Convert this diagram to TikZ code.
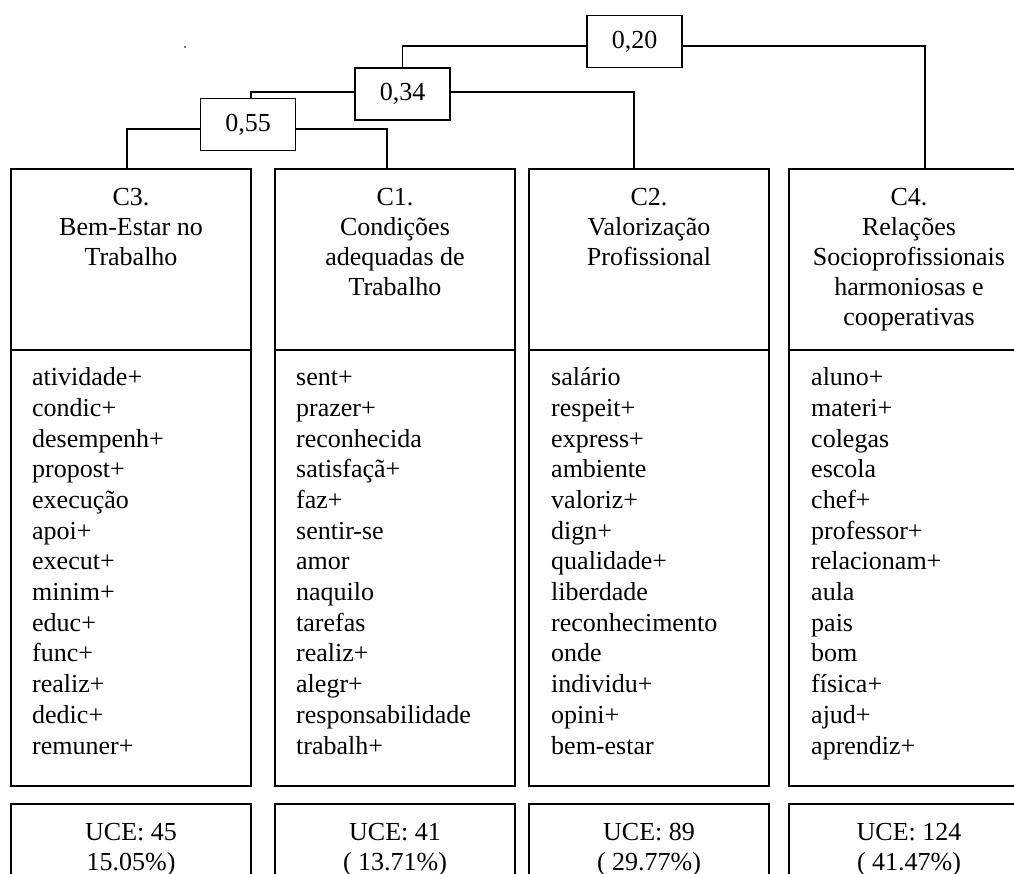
\documentclass[tikz,border=0pt]{standalone}
\usepackage{fontspec}
\setmainfont{Liberation Serif}
\begin{document}
\begin{tikzpicture}[x=1pt,y=-1pt,
  frame/.style={draw, line width=1.6pt, inner sep=0pt, minimum width=240pt},
  val/.style={draw, line width=1.6pt, inner sep=0pt, minimum width=95pt, minimum height=52pt, font=\fontsize{26}{30}\selectfont},
  conn/.style={line width=1.2pt},
  hdrtxt/.style={inner sep=0pt, anchor=north, align=center, font=\fontsize{26}{30}\selectfont},
  listtxt/.style={inner sep=0pt, anchor=north west, align=left, font=\fontsize{26}{30.7}\selectfont}
]
\clip (0,0) rectangle (1014,874);
\fill[white] (0,0) rectangle (1014,874);

% column frames
\foreach \n/\cx in {3/131,1/395,2/649,4/909}{
  \node[frame, minimum height=181pt] (h\n) at (\cx,259.5) {};
  \node[frame, minimum height=436pt] (w\n) at (\cx,568) {};
  \node[frame, minimum height=110pt] (u\n) at (\cx,859) {};
}

% dendrogram values
\node[val] (v020) at (634.5,41.5) {0,20};
\node[val] (v034) at (402.5,94) {0,34};
\node[val] (v055) at (248,124.5) {0,55};

% connectors
\draw[conn] ([yshift=-4.5pt]v020.west) -| (v034.north);
\draw[conn] ([yshift=-4.5pt]v020.east) -| ([xshift=16pt]h4.north);
\draw[conn] ([yshift=2pt]v034.west) -| ([xshift=3pt]v055.north);
\draw[conn] ([yshift=2pt]v034.east) -| ([xshift=-15pt]h2.north);
\draw[conn] ([yshift=-4.5pt]v055.west) -| ([xshift=-4pt]h3.north);
\draw[conn] ([yshift=-4.5pt]v055.east) -| ([xshift=-8pt]h1.north);

\fill (185,47) circle (0.9pt);

% headers
\node[hdrtxt] (t3) at (131,184) {\strut C3.\\Bem-Estar no\\Trabalho};
\node[hdrtxt] (t1) at (395,184) {\strut C1.\\Condições\\adequadas de\\Trabalho};
\node[hdrtxt] (t2) at (649,184) {\strut C2.\\Valorização\\Profissional};
\node[hdrtxt] (t4) at (909,184) {\strut C4.\\Relações\\Socioprofissionais\\harmoniosas e\\cooperativas};

% word lists
\node[listtxt] (l3) at (32,364) {\strut atividade+\\condic+\\desempenh+\\propost+\\execução\\apoi+\\execut+\\minim+\\educ+\\func+\\realiz+\\dedic+\\remuner+};
\node[listtxt] (l1) at (296,364) {\strut sent+\\prazer+\\reconhecida\\satisfaçã+\\faz+\\sentir-se\\amor\\naquilo\\tarefas\\realiz+\\alegr+\\responsabilidade\\trabalh+};
\node[listtxt] (l2) at (551,364) {\strut salário\\respeit+\\express+\\ambiente\\valoriz+\\dign+\\qualidade+\\liberdade\\reconhecimento\\onde\\individu+\\opini+\\bem-estar};
\node[listtxt] (l4) at (811,364) {\strut aluno+\\materi+\\colegas\\escola\\chef+\\professor+\\relacionam+\\aula\\pais\\bom\\física+\\ajud+\\aprendiz+};

% UCE
\node[hdrtxt] (c3) at (131,819) {\strut UCE: 45\\15.05\%)};
\node[hdrtxt] (c1) at (395,819) {\strut UCE: 41\\( 13.71\%)};
\node[hdrtxt] (c2) at (649,819) {\strut UCE: 89\\( 29.77\%)};
\node[hdrtxt] (c4) at (909,819) {\strut UCE: 124\\( 41.47\%)};
\end{tikzpicture}
\end{document}
